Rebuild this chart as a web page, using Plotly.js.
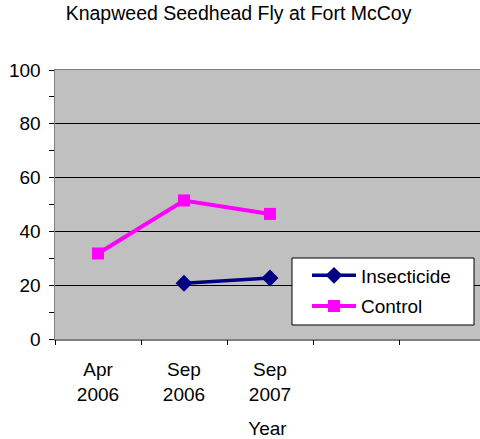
<!DOCTYPE html>
<html><head><meta charset="utf-8">
<script src="https://cdn.plot.ly/plotly-3.0.1.min.js"></script>
<style>html,body{margin:0;padding:0;background:#fff}</style>
</head><body><div id="chart" style="width:480px;height:439px"></div>
<script>
const categories = ["Apr<br>2006", "Sep<br>2006", "Sep<br>2007"];
const insecticideValues = [null, 20.7, 22.7];
const controlValues = [31.8, 51.5, 46.5];
const yTicks = [0, 20, 40, 60, 80, 100];
const slotCount = 5;

const idx = categories.map((_, i) => i);
const boundaries = [];
for (let i = 0; i < slotCount; i++) boundaries.push(i - 0.5);

const plotL = 55, plotT = 70, plotB = 339, plotW = 425, plotH = plotB - plotT, slotW = 86;
const xr = [-0.5, -0.5 + plotW / slotW];
const px = v => (v - plotL) / plotW;
const py = v => (plotB - v) / plotH;

const font = "Liberation Sans, Arial, sans-serif";
const data = [
  {x: idx, y: insecticideValues, name: "Insecticide", type: "scatter", mode: "lines+markers", legendgroup: "a",
   line: {color: "#000080", width: 3.5}, marker: {symbol: "diamond", size: 13, color: "#000080"}, xaxis: "x", yaxis: "y"},
  {x: idx, y: controlValues, name: "Control", type: "scatter", mode: "lines+markers", legendgroup: "b",
   line: {color: "#FF00FF", width: 4}, marker: {symbol: "square", size: 12, color: "#FF00FF"}, xaxis: "x", yaxis: "y"},
  {x: [0], y: [null], showlegend: false, xaxis: "x2", yaxis: "y", hoverinfo: "skip"}
];
const layout = {
  width: 480, height: 439,
  margin: {l: plotL, r: 0, t: plotT, b: 439 - plotB},
  paper_bgcolor: "#fff", plot_bgcolor: "#C0C0C0",
  font: {family: font, size: 19, color: "#000"},
  title: {text: "Knapweed Seedhead Fly at Fort McCoy", x: 0.497, xanchor: "center", y: 0.97, yanchor: "middle", font: {size: 19.5}},
  showlegend: true,
  shapes: [{type: "rect", xref: "paper", yref: "paper", x0: px(292), x1: px(474), y0: py(325), y1: py(258),
    fillcolor: "#fff", line: {color: "#000", width: 1}, layer: "above"}],
  legend: {x: px(307), y: py(256.5), xanchor: "left", yanchor: "top",
    bgcolor: "rgba(0,0,0,0)", borderwidth: 0, font: {size: 19}, itemwidth: 44,
    tracegroupgap: 3},
  xaxis: {range: xr, tickmode: "array", tickvals: idx, ticktext: categories, ticks: "",
    showgrid: false, zeroline: false, showline: true, linecolor: "#808080", linewidth: 1.5, mirror: true,
    tickfont: {size: 19}, ticklabelstandoff: 13,
    title: {text: "Year", font: {size: 19}, standoff: 17}},
  xaxis2: {range: xr, overlaying: "x", side: "bottom", anchor: "y", tickmode: "array", tickvals: boundaries,
    ticks: "outside", ticklen: 5, tickcolor: "#000", showticklabels: false, showgrid: false, zeroline: false},
  yaxis: {range: [0, 100], tickmode: "array", tickvals: yTicks, ticks: "outside", ticklen: 5, tickcolor: "#000",
    showgrid: true, gridcolor: "#000", gridwidth: 1, zeroline: false, showline: true, linecolor: "#808080",
    linewidth: 1.5, tickfont: {size: 19}, ticklabelstandoff: 4,
    minor: {dtick: 10, ticks: "outside", ticklen: 5, tickcolor: "#000", showgrid: false}}
};
Plotly.newPlot("chart", data, layout, {displayModeBar: false, staticPlot: true});
</script></body></html>
